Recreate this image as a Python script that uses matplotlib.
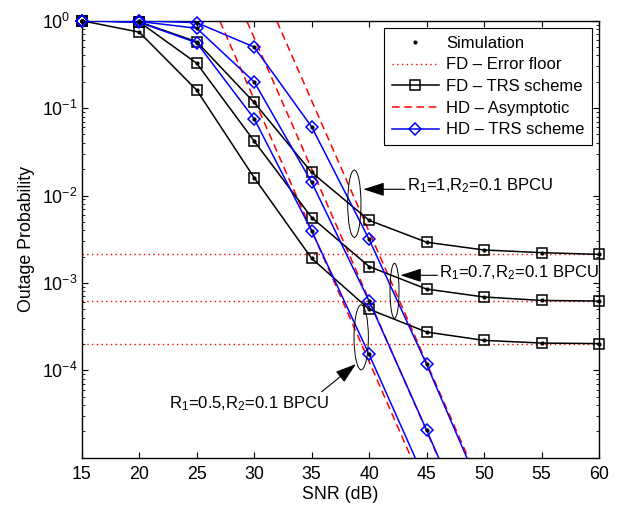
import matplotlib
matplotlib.use('Agg')
import matplotlib.pyplot as plt
from matplotlib.lines import Line2D
from matplotlib.patches import Ellipse
from matplotlib.ticker import FixedLocator, LogLocator, NullFormatter, LogFormatterSciNotation

plt.rcParams['font.family'] = ['Liberation Sans', 'DejaVu Sans']
plt.rcParams['mathtext.fontset'] = 'custom'
plt.rcParams['mathtext.rm'] = 'Liberation Sans'
plt.rcParams['mathtext.it'] = 'Liberation Sans:italic'
plt.rcParams['mathtext.bf'] = 'Liberation Sans:bold'

# ---------------- data ----------------
snr = [15, 20, 25, 30, 35, 40, 45, 50, 55, 60]
fd_r1_10 = [1.0, 0.97, 0.575, 0.116, 0.0184, 5.2e-3, 2.92e-3, 2.38e-3, 2.22e-3, 2.12e-3]
fd_r1_07 = [1.0, 0.97, 0.326, 0.042, 5.6e-3, 1.54e-3, 8.5e-4, 6.9e-4, 6.3e-4, 6.2e-4]
fd_r1_05 = [1.0, 0.74, 0.161, 0.016, 1.91e-3, 5.0e-4, 2.74e-4, 2.2e-4, 2.05e-4, 2.02e-4]

hd_snr_10 = [15, 20, 25, 30, 35, 40, 45, 50]
hd_r1_10 = [1.0, 1.0, 0.95, 0.50, 0.0612, 3.15e-3, 1.17e-4, 3.5e-6]
hd_snr_07 = [15, 20, 25, 30, 35, 40, 45, 50]
hd_r1_07 = [1.0, 0.98, 0.82, 0.20, 0.0142, 6.2e-4, 2.07e-5, 6.5e-7]
hd_snr_05 = [15, 20, 25, 30, 35, 40, 45]
hd_r1_05 = [1.0, 0.96, 0.56, 0.0757, 3.95e-3, 1.52e-4, 5.1e-6]

asym_snr = [25, 30, 35, 40, 45, 50]
asym_r1_10 = [122.0, 3.87, 0.122, 3.87e-3, 1.22e-4, 3.87e-6]
asym_r1_07 = [20.2, 0.638, 0.0202, 6.38e-4, 2.02e-5, 6.38e-7]
asym_r1_05 = [3.98, 0.126, 3.98e-3, 1.26e-4, 3.98e-6, 1.26e-7]

floor_values = [2.12e-3, 6.15e-4, 2.0e-4]

x_ticks = [15, 20, 25, 30, 35, 40, 45, 50, 55, 60]
y_ticks = [1e-4, 1e-3, 1e-2, 1e-1, 1e0]
y_min, y_max = 1e-5, 1.0

legend_labels = ['Simulation', 'FD \u2013 Error floor', 'FD \u2013 TRS scheme',
                 'HD \u2013 Asymptotic', 'HD \u2013 TRS scheme']
ann_labels = [r'R$_1$=1,R$_2$=0.1 BPCU', r'R$_1$=0.7,R$_2$=0.1 BPCU',
              r'R$_1$=0.5,R$_2$=0.1 BPCU']

# ---------------- figure ----------------
W, H = 618, 508
fig = plt.figure(figsize=(W / 100, H / 100), dpi=100)
ax_l, ax_r, ax_t, ax_b = 81.7, 599.0, 20.7, 457.7
ax = fig.add_axes([ax_l / W, (H - ax_b) / H, (ax_r - ax_l) / W, (ax_b - ax_t) / H])
ax.set_yscale('log')

LW = 1.1


def visible(xs, ys):
    pts = [(x, y) for x, y in zip(xs, ys) if y_min <= y <= y_max]
    return [p[0] for p in pts], [p[1] for p in pts]


# error floors
for f in floor_values:
    ax.plot([snr[0], snr[-1]], [f, f], color='red', lw=1.0,
            linestyle=(0, (1, 2.4)), zorder=1)

# asymptotic
for a in (asym_r1_10, asym_r1_07, asym_r1_05):
    ax.plot(asym_snr, a, color='red', lw=LW, linestyle=(0, (5, 3)), zorder=2)

fd_style = dict(color='black', marker='s', ms=6.5, mfc='none', mec='black', mew=1.1)
hd_style = dict(color='blue', marker='D', ms=6.0, mfc='none', mec='blue', mew=1.1)

# FD TRS
for d in (fd_r1_10, fd_r1_07, fd_r1_05):
    ax.plot(snr, d, color='black', lw=LW, zorder=3)
    vx, vy = visible(snr, d)
    ax.plot(vx, vy, linestyle='none', clip_on=False, zorder=3.5, **fd_style)

# HD TRS
for s, d in ((hd_snr_10, hd_r1_10), (hd_snr_07, hd_r1_07), (hd_snr_05, hd_r1_05)):
    ax.plot(s, d, color='blue', lw=LW, zorder=4)
    vx, vy = visible(s, d)
    ax.plot(vx, vy, linestyle='none', clip_on=False, zorder=4.5, **hd_style)

# simulation dots
for s, d in ((snr, fd_r1_10), (snr, fd_r1_07), (snr, fd_r1_05),
             (hd_snr_10, hd_r1_10), (hd_snr_07, hd_r1_07), (hd_snr_05, hd_r1_05)):
    vx, vy = visible(s, d)
    ax.plot(vx, vy, linestyle='none', marker='.', ms=4, color='black',
            clip_on=False, zorder=5)

ax.set_xlim(15, 60)
ax.set_ylim(y_min, y_max)
ax.set_xticks(x_ticks)
ax.yaxis.set_major_locator(FixedLocator(y_ticks))
ax.yaxis.set_major_formatter(LogFormatterSciNotation())
ax.yaxis.set_minor_locator(LogLocator(base=10, subs=[2, 3, 4, 5, 6, 7, 8, 9], numticks=20))
ax.yaxis.set_minor_formatter(NullFormatter())

ax.tick_params(which='both', direction='in', top=True, right=True, labelsize=12.75)
ax.tick_params(which='major', length=4.5, width=0.8)
ax.tick_params(which='minor', length=2.5, width=0.6)
ax.tick_params(axis='x', pad=6)
ax.tick_params(axis='y', pad=28.4)
for lbl in ax.get_yticklabels():
    lbl.set_horizontalalignment('left')
for sp in ax.spines.values():
    sp.set_linewidth(1.0)

ax.set_xlabel('SNR (dB)', fontsize=12.75, labelpad=2)
ax.set_ylabel('Outage Probability', fontsize=12.75, labelpad=5)

# legend handles
h_sim = Line2D([], [], linestyle='none', marker='.', ms=4, color='black')
h_floor = Line2D([], [], color='red', lw=1.0, linestyle=(0, (1, 2.4)))
h_fd = Line2D([], [], lw=LW, **fd_style)
h_asym = Line2D([], [], color='red', lw=LW, linestyle=(0, (5, 3)))
h_hd = Line2D([], [], lw=LW, **hd_style)

leg = ax.legend([h_sim, h_floor, h_fd, h_asym, h_hd], legend_labels,
                loc='upper right', bbox_to_anchor=(0.9865, 0.9826), borderaxespad=0,
                fontsize=12, frameon=True, fancybox=False, framealpha=1,
                edgecolor='black', handlelength=2.8, handletextpad=0.45,
                labelspacing=0.4, borderpad=0.45)
leg.get_frame().set_linewidth(0.8)
leg.set_zorder(10)

# ellipses (axes fraction)
for (cx, cy, w, h) in ((0.527, 0.5812, 0.0257, 0.154),
                       (0.6047, 0.3819, 0.0174, 0.1259),
                       (0.5403, 0.2755, 0.0277, 0.1487)):
    ax.add_patch(Ellipse((cx, cy), w, h, transform=ax.transAxes, fill=False,
                         ec='black', lw=0.7, zorder=6))

arrow_kw = dict(arrowstyle='-|>,head_length=1.3,head_width=0.42', color='black',
                lw=0.8, shrinkA=0, shrinkB=0, mutation_scale=10)
ax.annotate('', xy=(0.5444, 0.6142), xytext=(0.625, 0.6142),
            xycoords='axes fraction', textcoords='axes fraction', arrowprops=arrow_kw)
ax.annotate('', xy=(0.616, 0.4174), xytext=(0.6878, 0.4174),
            xycoords='axes fraction', textcoords='axes fraction', arrowprops=arrow_kw)
ax.annotate('', xy=(0.5302, 0.2144), xytext=(0.464, 0.151),
            xycoords='axes fraction', textcoords='axes fraction', arrowprops=arrow_kw)

ax.text(0.6283, 0.611, ann_labels[0], transform=ax.transAxes, ha='left',
        va='baseline', fontsize=12)
ax.text(0.6913, 0.4128, ann_labels[1], transform=ax.transAxes, ha='left',
        va='baseline', fontsize=12)
ax.text(0.1693, 0.113, ann_labels[2], transform=ax.transAxes, ha='left',
        va='baseline', fontsize=12)

fig.savefig('out.png', dpi=100)
